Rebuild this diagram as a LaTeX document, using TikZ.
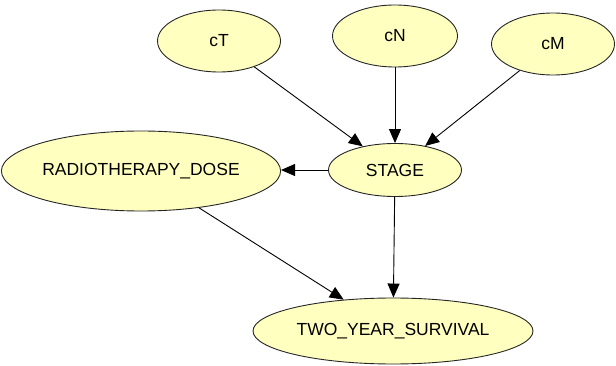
\documentclass[tikz,border=0pt]{standalone}
\usepackage{fontspec}
\setmainfont{Liberation Sans}
\usetikzlibrary{arrows.meta,shapes.geometric}
\definecolor{bnyellow}{RGB}{255,255,192}

\begin{document}
\begin{tikzpicture}[x=1pt,y=-1pt,
  var/.style={ellipse, draw=black!85, fill=bnyellow, line width=0.9pt, inner sep=0pt,
    font=\fontsize{17.5}{20}\selectfont},
  >={Triangle[length=14pt,width=12pt]}]
\useasboundingbox (0,0) rectangle (616,366);
\node[var, minimum width=123pt, minimum height=62pt] (cT) at (219,41) {cT};
\node[var, minimum width=125pt, minimum height=62pt] (cN) at (395,36) {cN};
\node[var, minimum width=123pt, minimum height=62pt] (cM) at (553,44) {cM};
\node[var, minimum width=133pt, minimum height=53pt] (stage) at (395,170) {STAGE};
\node[var, minimum width=253pt, minimum height=80pt] (dose) at (141,171) {RADIOTHERAPY\_DOSE};
\node[var, minimum width=280pt, minimum height=66pt] (surv) at (393,331) {TWO\_YEAR\_SURVIVAL};

\draw[->, line width=0.9pt] (cT)--(stage);
\draw[->, line width=0.9pt] (cN)--(stage);
\draw[->, line width=0.9pt] (cM)--(stage);
\draw[->, line width=0.9pt] (stage.west)--(stage.west -| dose.east);
\draw[->, line width=0.9pt] (stage)--(surv);
\draw[->, line width=0.9pt] (dose)--(surv);
\end{tikzpicture}
\end{document}
